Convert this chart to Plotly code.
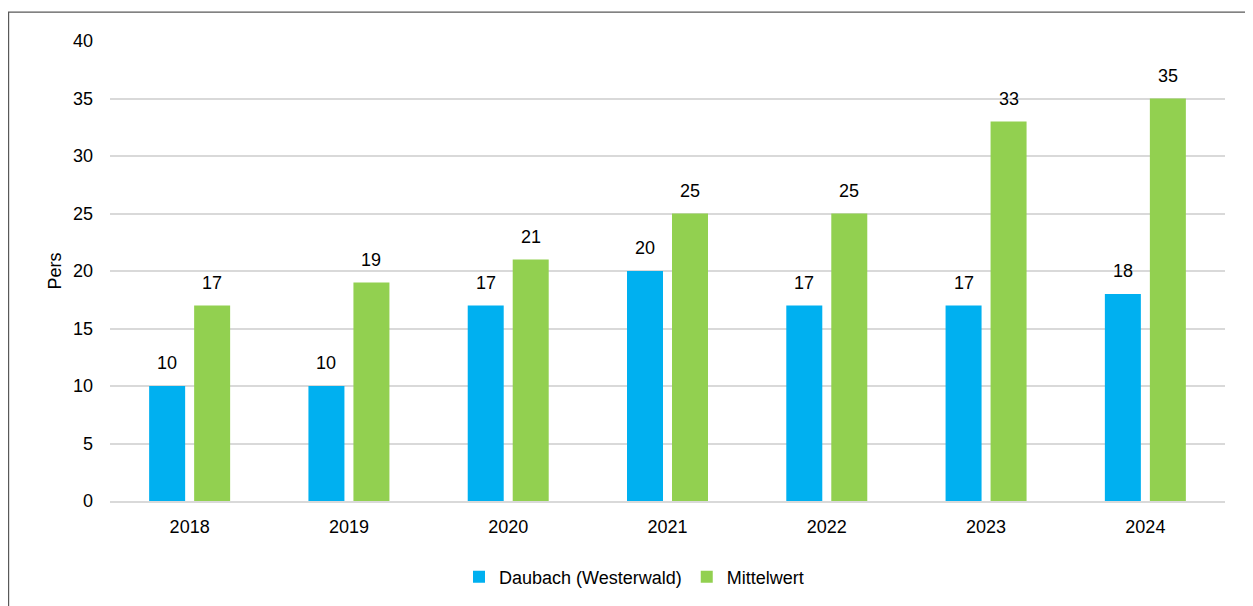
import plotly.graph_objects as go

years = ["2018", "2019", "2020", "2021", "2022", "2023", "2024"]
daubach = [10, 10, 17, 20, 17, 17, 18]
mittelwert = [17, 19, 21, 25, 25, 33, 35]
series_names = ["Daubach (Westerwald)", "Mittelwert"]
y_ticks = [0, 5, 10, 15, 20, 25, 30, 35, 40]

BLUE = "#00B0F0"
GREEN = "#92D050"
FONT = "Liberation Sans, Arial, sans-serif"
FS = 18

# figure is placed 8px inside the page by the html body margin
W, H = 1245, 598
L, T, R, B = 102, 33, 28, 104
PW, PH = W - L - R, H - T - B

fig = go.Figure()
fig.add_trace(go.Bar(x=years, y=daubach, name=series_names[0], marker_color=BLUE,
                     marker_line_width=0))
fig.add_trace(go.Bar(x=years, y=mittelwert, name=series_names[1], marker_color=GREEN,
                     marker_line_width=0))

annotations = []
for vals, shift in ((daubach, -22.5), (mittelwert, 22.5)):
    for i, v in enumerate(vals):
        annotations.append(dict(x=i, y=v, xref="x", yref="y", text=str(v),
                                showarrow=False, xshift=shift, yshift=11,
                                yanchor="bottom",
                                font=dict(family=FONT, size=FS, color="#000000")))

fig.update_layout(
    width=W, height=H,
    margin=dict(l=L, r=R, t=T, b=B),
    paper_bgcolor="white", plot_bgcolor="white",
    barmode="group", bargap=0.435, bargroupgap=0.2,
    font=dict(family=FONT, size=FS, color="#000000"),
    showlegend=True,
    legend=dict(orientation="h", x=(634 - 110) / PW, xanchor="center",
                y=-(577 - 502) / PH, yanchor="middle",
                font=dict(family=FONT, size=FS, color="#000000"),
                tracegroupgap=0),
    annotations=annotations,
    shapes=[dict(type="rect", xref="paper", yref="paper",
                 x0=(0.6 - L) / PW, x1=1.3, y0=-0.5, y1=1 + (41 - 12) / PH,
                 line=dict(color="#595959", width=1.2), fillcolor="rgba(0,0,0,0)",
                 layer="below")],
)
fig.update_xaxes(type="category", showgrid=False, showline=True, linecolor="#D9D9D9",
                 linewidth=2, ticks="", ticklabelstandoff=8,
                 tickfont=dict(family=FONT, size=FS, color="#000000"))
fig.update_yaxes(range=[0, 40], tickvals=y_ticks, showgrid=True, gridcolor="#D9D9D9",
                 gridwidth=2, zeroline=False, showline=False, ticks="",
                 ticklabelstandoff=16,
                 title=dict(text="Pers", font=dict(family=FONT, size=FS, color="#000000"),
                            standoff=6),
                 tickfont=dict(family=FONT, size=FS, color="#000000"))

fig.write_html("out.html")
